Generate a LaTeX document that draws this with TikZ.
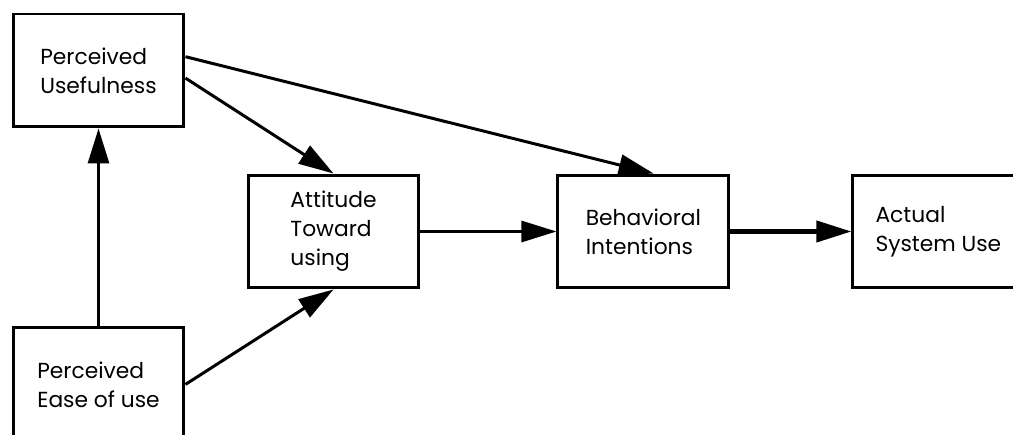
\documentclass[tikz,border=0pt]{standalone}
\usepackage{fontspec}
\setmainfont{Poppins}
\usetikzlibrary{arrows.meta,positioning}

\begin{document}
\begin{tikzpicture}[x=0.02cm,y=-0.02cm,->,>={Triangle[length=0.7cm,width=0.42cm]},
                    line width=1.7pt,
                    box/.style={draw,rectangle,align=left,minimum width=3.42cm,
                      minimum height=2.26cm,font=\fontsize{12.4}{16.5}\selectfont}]

	\useasboundingbox (0,0) rectangle (1013,435);
	\clip (0,0) rectangle (1013,435);

  	\node[box] (pu) at (98.5,70.5)            {Perceived\\Usefulness};
  	\node[box] (peou) [below=3.96cm of pu]    {Perceived\\Ease of use};
	\node[box] (att) at (333.5,231.5)          {Attitude\\Toward\\using};
	\node[box] (bi) [right=2.72cm of att]      {Behavioral\\Intentions};
	\node[box] (asu) [right=2.42cm of bi]      {Actual\\System Use};

  	\draw (peou) -- (pu);
	\draw (pu.-5) -- (att.north);
	\draw (pu.9) -- (bi.80);
	\draw (peou.east) -- (att.south);
	\draw (att) -- (bi);
	\draw[line width=2.3pt] (bi) -- (asu);

\end{tikzpicture}
\end{document}
